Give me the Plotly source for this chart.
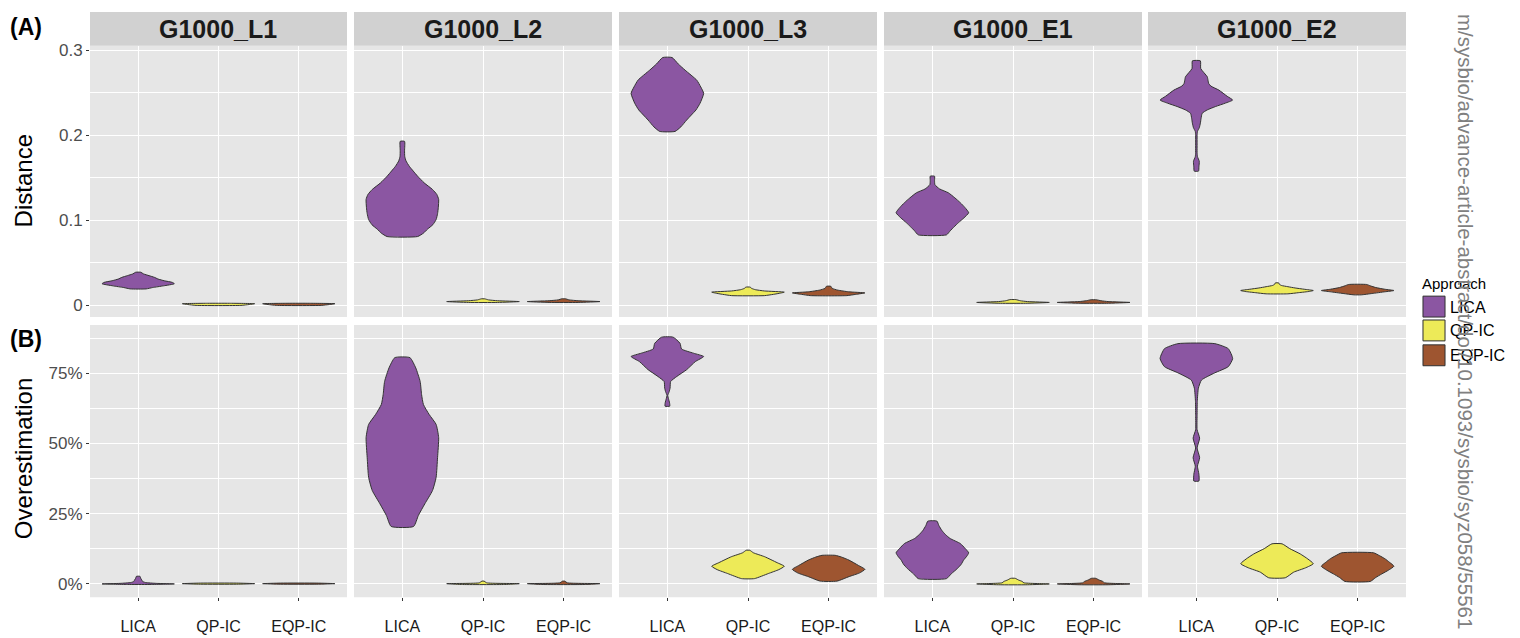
import plotly.graph_objects as go

W, H = 1520, 638

panels = ["G1000_L1", "G1000_L2", "G1000_L3", "G1000_E1", "G1000_E2"]
approaches = ["LICA", "QP-IC", "EQP-IC"]
colors = ["#8B56A2", "#EDEA58", "#9E5530"]

# ---- Row A: Distance  (violin outline: y values, relative half-width) ----
A_L1_LICA_y = [0.0194, 0.021, 0.023, 0.0255, 0.027, 0.029, 0.031, 0.033, 0.035, 0.037, 0.039]
A_L1_LICA_w = [0.22, 0.4, 0.7, 1.0, 0.95, 0.72, 0.55, 0.45, 0.3, 0.15, 0.07]
A_L1_QP_y = [0.0, 0.001, 0.002, 0.0025]
A_L1_QP_w = [0.62, 0.85, 1.0, 0.3]
A_L1_EQP_y = [0.0, 0.001, 0.002, 0.0025]
A_L1_EQP_w = [0.62, 0.85, 1.0, 0.3]

A_L2_LICA_y = [0.081, 0.085, 0.0896, 0.095, 0.101, 0.108, 0.115, 0.1247, 0.1305, 0.1364, 0.1442, 0.152, 0.158, 0.1637, 0.170, 0.1754, 0.182, 0.193]
A_L2_LICA_w = [0.42, 0.58, 0.69, 0.84, 0.93, 0.97, 0.99, 1.0, 0.95, 0.83, 0.60, 0.42, 0.3, 0.19, 0.1, 0.065, 0.06, 0.06]
A_L2_QP_y = [0.0035, 0.0045, 0.0055, 0.0065, 0.0077]
A_L2_QP_w = [0.4, 1.0, 0.4, 0.15, 0.05]
A_L2_EQP_y = [0.0035, 0.0045, 0.0055, 0.0065, 0.0078]
A_L2_EQP_w = [0.4, 1.0, 0.4, 0.15, 0.05]

A_L3_LICA_y = [0.2047, 0.210, 0.218, 0.224, 0.230, 0.2378, 0.2495, 0.257, 0.265, 0.2767, 0.284, 0.2916]
A_L3_LICA_w = [0.21, 0.37, 0.53, 0.66, 0.79, 0.9, 1.0, 0.92, 0.81, 0.49, 0.3, 0.13]
A_L3_QP_y = [0.0115, 0.013, 0.0145, 0.0156, 0.017, 0.0185, 0.020, 0.0215]
A_L3_QP_w = [0.45, 0.7, 0.9, 1.0, 0.45, 0.2, 0.1, 0.06]
A_L3_EQP_y = [0.0115, 0.013, 0.0147, 0.016, 0.018, 0.020, 0.0225]
A_L3_EQP_w = [0.5, 0.75, 1.0, 0.55, 0.25, 0.1, 0.06]

A_E1_LICA_y = [0.083, 0.0877, 0.0925, 0.0974, 0.103, 0.109, 0.115, 0.1208, 0.1265, 0.1325, 0.137, 0.142, 0.147, 0.152]
A_E1_LICA_w = [0.39, 0.49, 0.6, 0.72, 0.87, 1.0, 0.9, 0.77, 0.62, 0.44, 0.2, 0.07, 0.06, 0.06]
A_E1_QP_y = [0.0025, 0.0035, 0.0045, 0.0055, 0.0068]
A_E1_QP_w = [0.35, 1.0, 0.4, 0.2, 0.08]
A_E1_EQP_y = [0.0025, 0.0035, 0.0045, 0.0055, 0.0066]
A_E1_EQP_w = [0.35, 1.0, 0.4, 0.2, 0.08]

A_E2_LICA_y = [0.158, 0.163, 0.1696, 0.175, 0.180, 0.190, 0.200, 0.2047, 0.209, 0.2144, 0.220, 0.226, 0.230, 0.234, 0.238, 0.2416, 0.246, 0.2533, 0.258, 0.261, 0.265, 0.269, 0.2787, 0.2877]
A_E2_LICA_w = [0.06, 0.07, 0.08, 0.03, 0.02, 0.02, 0.02, 0.03, 0.08, 0.11, 0.13, 0.16, 0.3, 0.53, 0.8, 1.0, 0.85, 0.62, 0.4, 0.34, 0.32, 0.3, 0.12, 0.11]
A_E2_QP_y = [0.0136, 0.015, 0.0165, 0.0175, 0.019, 0.0205, 0.022, 0.0235, 0.025, 0.0264]
A_E2_QP_w = [0.3, 0.6, 0.9, 1.0, 0.75, 0.5, 0.3, 0.12, 0.06, 0.05]
A_E2_EQP_y = [0.0124, 0.014, 0.016, 0.0175, 0.019, 0.021, 0.023, 0.0246]
A_E2_EQP_w = [0.1, 0.4, 0.75, 1.0, 0.75, 0.5, 0.35, 0.25]

# ---- Row B: Overestimation (%) ----
B_L1_LICA_y = [-0.3, -0.1, 0.1, 0.4, 0.8, 1.3, 1.9, 2.6]
B_L1_LICA_w = [0.3, 1.0, 0.5, 0.2, 0.12, 0.1, 0.07, 0.05]
B_L1_QP_y = [-0.2, 0.0, 0.2]
B_L1_QP_w = [0.5, 1.0, 0.5]
B_L1_EQP_y = [-0.2, 0.0, 0.2]
B_L1_EQP_w = [0.5, 1.0, 0.5]

B_L2_LICA_y = [20.4, 24.3, 28.5, 33.2, 37.9, 45, 52.1, 56.8, 60.3, 63.9, 67.4, 72.1, 76.9, 80.6]
B_L2_LICA_w = [0.31, 0.44, 0.62, 0.83, 0.93, 0.97, 1.0, 0.93, 0.74, 0.58, 0.53, 0.49, 0.37, 0.21]
B_L2_QP_y = [-0.3, 0.0, 0.3, 0.9]
B_L2_QP_w = [0.6, 1.0, 0.1, 0.03]
B_L2_EQP_y = [-0.3, 0.0, 0.3, 0.9]
B_L2_EQP_w = [0.6, 1.0, 0.1, 0.03]

B_L3_LICA_y = [63.3, 64.5, 66, 67.1, 68.5, 69.8, 72.1, 73.9, 76.3, 79.2, 81, 82.2, 83.7, 85.7, 87.9]
B_L3_LICA_w = [0.065, 0.06, 0.03, 0.01, 0.05, 0.075, 0.09, 0.26, 0.53, 0.77, 1.0, 0.72, 0.39, 0.35, 0.16]
B_L3_QP_y = [1.8, 3.6, 5, 6.2, 7.5, 9.6, 11, 11.9]
B_L3_QP_w = [0.18, 0.56, 0.85, 1.0, 0.8, 0.46, 0.15, 0.05]
B_L3_EQP_y = [0.9, 2.5, 3.8, 5.1, 6.5, 8.4, 9.5, 10.1]
B_L3_EQP_w = [0.23, 0.56, 0.85, 1.0, 0.82, 0.56, 0.35, 0.18]

B_E1_LICA_y = [1.8, 3.5, 5.4, 7, 8.4, 9.8, 11, 12.6, 14.3, 16.1, 17.5, 19, 20.7, 22.3]
B_E1_LICA_w = [0.39, 0.52, 0.69, 0.8, 0.86, 0.95, 1.0, 0.9, 0.77, 0.49, 0.36, 0.26, 0.18, 0.125]
B_E1_QP_y = [-0.4, -0.1, 0.3, 0.8, 1.3, 1.9]
B_E1_QP_w = [0.4, 1.0, 0.3, 0.25, 0.15, 0.06]
B_E1_EQP_y = [-0.4, -0.1, 0.3, 0.8, 1.3, 1.9]
B_E1_EQP_w = [0.4, 1.0, 0.3, 0.25, 0.15, 0.06]

B_E2_LICA_y = [36.6, 39, 41.9, 44.9, 48.4, 51.9, 54.9, 60, 65, 69.7, 72.6, 75.2, 77.4, 80.3, 83.8, 85.6]
B_E2_LICA_w = [0.07, 0.07, 0.03, 0.09, 0.02, 0.09, 0.02, 0.02, 0.025, 0.055, 0.14, 0.51, 0.88, 1.0, 0.88, 0.51]
B_E2_QP_y = [2.1, 4.1, 5.6, 7.1, 8.8, 10.6, 12.5, 14.2]
B_E2_QP_w = [0.23, 0.46, 0.78, 1.0, 0.85, 0.64, 0.35, 0.14]
B_E2_EQP_y = [0.8, 2.2, 3.5, 4.8, 6.2, 7.6, 8.9, 10, 11]
B_E2_EQP_w = [0.35, 0.5, 0.67, 0.85, 1.0, 0.88, 0.75, 0.6, 0.44]

rows = {
    "A": [
        [(A_L1_LICA_y, A_L1_LICA_w), (A_L1_QP_y, A_L1_QP_w), (A_L1_EQP_y, A_L1_EQP_w)],
        [(A_L2_LICA_y, A_L2_LICA_w), (A_L2_QP_y, A_L2_QP_w), (A_L2_EQP_y, A_L2_EQP_w)],
        [(A_L3_LICA_y, A_L3_LICA_w), (A_L3_QP_y, A_L3_QP_w), (A_L3_EQP_y, A_L3_EQP_w)],
        [(A_E1_LICA_y, A_E1_LICA_w), (A_E1_QP_y, A_E1_QP_w), (A_E1_EQP_y, A_E1_EQP_w)],
        [(A_E2_LICA_y, A_E2_LICA_w), (A_E2_QP_y, A_E2_QP_w), (A_E2_EQP_y, A_E2_EQP_w)],
    ],
    "B": [
        [(B_L1_LICA_y, B_L1_LICA_w), (B_L1_QP_y, B_L1_QP_w), (B_L1_EQP_y, B_L1_EQP_w)],
        [(B_L2_LICA_y, B_L2_LICA_w), (B_L2_QP_y, B_L2_QP_w), (B_L2_EQP_y, B_L2_EQP_w)],
        [(B_L3_LICA_y, B_L3_LICA_w), (B_L3_QP_y, B_L3_QP_w), (B_L3_EQP_y, B_L3_EQP_w)],
        [(B_E1_LICA_y, B_E1_LICA_w), (B_E1_QP_y, B_E1_QP_w), (B_E1_EQP_y, B_E1_EQP_w)],
        [(B_E2_LICA_y, B_E2_LICA_w), (B_E2_QP_y, B_E2_QP_w), (B_E2_EQP_y, B_E2_EQP_w)],
    ],
}

A_ticks = [0, 0.1, 0.2, 0.3]
A_ticktext = ["0", "0.1", "0.2", "0.3"]
A_minor = [0.05, 0.15, 0.25]
B_ticks = [0, 25, 50, 75]
B_ticktext = ["0%", "25%", "50%", "75%"]
B_minor = [12.5, 37.5, 62.5, 87.5]

# ---- layout geometry (pixels) ----
col_px = [(90, 347), (354, 612), (619, 877), (884, 1142), (1148, 1406)]
row_px = {"A": (42, 315), "B": (323, 597)}
yrange = {"A": [-0.01368, 0.3055], "B": [-4.856, 92.26]}
HALF = 0.45
FONT = "Liberation Sans, Arial, sans-serif"


def px_x(p):
    return p / W


def px_y(p):
    return 1 - p / H


fig = go.Figure()
layout = {}
for r_i, rkey in enumerate(["A", "B"]):
    for c_i in range(5):
        k = r_i * 5 + c_i + 1
        xa = "x" if k == 1 else f"x{k}"
        ya = "y" if k == 1 else f"y{k}"
        for a_i, (ys, ws) in enumerate(rows[rkey][c_i]):
            cx = a_i + 1
            xs = [cx + HALF * w for w in ws] + [cx - HALF * w for w in reversed(ws)]
            yy = list(ys) + list(reversed(ys))
            xs.append(xs[0])
            yy.append(yy[0])
            fig.add_trace(go.Scatter(
                x=xs, y=yy, mode="lines", fill="toself",
                fillcolor=colors[a_i],
                line=dict(color="#333333", width=1, shape="spline", smoothing=0.5),
                name=approaches[a_i], showlegend=False, hoverinfo="skip",
                xaxis=xa, yaxis=ya,
            ))
        x0, x1 = col_px[c_i]
        top, bot = row_px[rkey]
        layout[f"xaxis{'' if k == 1 else k}"] = dict(
            domain=[px_x(x0), px_x(x1)], anchor=ya, range=[0.4, 3.6],
            tickvals=[1, 2, 3], ticktext=approaches if rkey == "B" else ["", "", ""],
            showticklabels=(rkey == "B"),
            ticks="outside" if rkey == "B" else "", ticklen=3, tickwidth=1, tickcolor="#333333",
            ticklabelstandoff=12,
            showgrid=True, gridcolor="white", gridwidth=1.1,
            zeroline=False, showline=False, fixedrange=True,
            tickfont=dict(family=FONT, size=16, color="#1A1A1A"),
        )
        layout[f"yaxis{'' if k == 1 else k}"] = dict(
            domain=[px_y(bot), px_y(top)], anchor=xa, range=yrange[rkey],
            tickvals=A_ticks if rkey == "A" else B_ticks,
            ticktext=A_ticktext if rkey == "A" else B_ticktext,
            showticklabels=(c_i == 0),
            ticks="outside" if c_i == 0 else "", ticklen=3, tickwidth=1, tickcolor="#333333",
            showgrid=True, gridcolor="white", gridwidth=1.1,
            minor=dict(tickvals=A_minor if rkey == "A" else B_minor, showgrid=True,
                       gridcolor="white", gridwidth=0.6, ticks=""),
            zeroline=False, showline=False, fixedrange=True,
            tickfont=dict(family=FONT, size=17, color="#4D4D4D"),
        )

shapes = []
annotations = []
# strips
for c_i, (x0, x1) in enumerate(col_px):
    shapes.append(dict(type="rect", xref="paper", yref="paper",
                       x0=px_x(x0), x1=px_x(x1), y0=px_y(42), y1=px_y(8),
                       fillcolor="#D1D1D1", line=dict(width=0), layer="below"))
    annotations.append(dict(xref="paper", yref="paper", x=px_x((x0 + x1) / 2), y=px_y(25),
                            text=f"<b>{panels[c_i]}</b>", showarrow=False,
                            font=dict(family=FONT, size=25, color="#1A1A1A"),
                            xanchor="center", yanchor="middle"))

# axis titles
annotations.append(dict(xref="paper", yref="paper", x=px_x(23), y=px_y(178.5), text="Distance",
                        textangle=-90, showarrow=False, xanchor="center", yanchor="middle",
                        font=dict(family=FONT, size=24, color="#000000")))
annotations.append(dict(xref="paper", yref="paper", x=px_x(23), y=px_y(458), text="Overestimation",
                        textangle=-90, showarrow=False, xanchor="center", yanchor="middle",
                        font=dict(family=FONT, size=24, color="#000000")))
# panel tags
annotations.append(dict(xref="paper", yref="paper", x=px_x(8), y=px_y(23), text="<b>(A)</b>",
                        showarrow=False, xanchor="left", yanchor="middle",
                        font=dict(family=FONT, size=23, color="#000000")))
annotations.append(dict(xref="paper", yref="paper", x=px_x(8), y=px_y(337), text="<b>(B)</b>",
                        showarrow=False, xanchor="left", yanchor="middle",
                        font=dict(family=FONT, size=23, color="#000000")))

# legend (drawn)
annotations.append(dict(xref="paper", yref="paper", x=px_x(1420), y=px_y(281), text="Approach",
                        showarrow=False, xanchor="left", yanchor="middle",
                        font=dict(family=FONT, size=15, color="#000000")))
key_tops = [293, 317, 342]
for a_i, t in enumerate(key_tops):
    shapes.append(dict(type="rect", xref="paper", yref="paper",
                       x0=px_x(1422), x1=px_x(1446), y0=px_y(t + 23), y1=px_y(t),
                       fillcolor="#F2F2F2", line=dict(width=0)))
    shapes.append(dict(type="rect", xref="paper", yref="paper",
                       x0=px_x(1423), x1=px_x(1445), y0=px_y(t + 22), y1=px_y(t + 1),
                       fillcolor=colors[a_i], line=dict(color="#333333", width=1)))
    annotations.append(dict(xref="paper", yref="paper", x=px_x(1448), y=px_y(t + 12),
                            text=approaches[a_i], showarrow=False, xanchor="left", yanchor="middle",
                            font=dict(family=FONT, size=16, color="#000000")))

# watermark (vertical text on the right edge)
annotations.append(dict(xref="paper", yref="paper", x=px_x(1466), y=px_y(319),
                        text="m/sysbio/advance-article-abstract/doi/10.1093/sysbio/syz058/55561",
                        textangle=90, showarrow=False, xanchor="center", yanchor="middle",
                        font=dict(family=FONT, size=20.5, color="#808080")))

fig.update_layout(
    width=W, height=H,
    margin=dict(l=0, r=0, t=0, b=0),
    paper_bgcolor="white", plot_bgcolor="#E6E6E6",
    showlegend=False,
    shapes=shapes, annotations=annotations,
    **layout,
)

fig.write_html("out.html", config={"displayModeBar": False},
               post_script="document.body.style.margin='0px';document.body.style.padding='0px';")
